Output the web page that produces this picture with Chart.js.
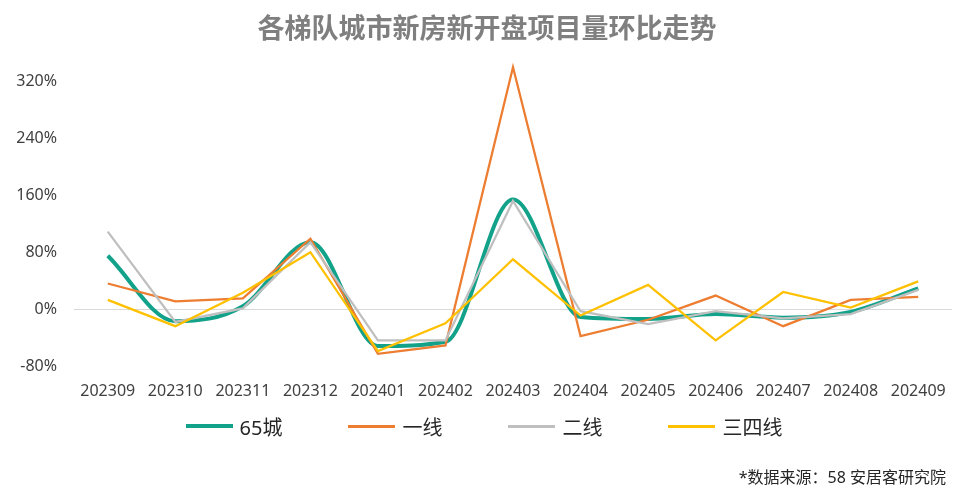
<!DOCTYPE html>
<html>
<head>
<meta charset="utf-8">
<script src="https://cdn.jsdelivr.net/npm/chart.js@4.4.1/dist/chart.umd.min.js"></script>
<style>
    html, body { margin: 0; padding: 0; background: #fff; }
    #wrap { position: relative; width: 960px; height: 499px; font-family: "Noto Sans", "Noto Sans CJK SC", sans-serif; }
    #title { position: absolute; left: 22px; right: 8px; top: 11px; text-align: center; font-size: 27px; font-weight: bold; color: #7f7f7f; line-height: 34px; }
    #legend { position: absolute; left: 8px; top: 413px; width: 952px; display: flex; justify-content: center; gap: 66px; }
    .item { display: flex; align-items: center; font-size: 20px; color: #262626; height: 26px; }
    .item span.line { display: inline-block; width: 47px; margin-right: 7px; }
    #source { position: absolute; right: 14px; top: 464px; font-size: 16px; color: #262626; }
</style>
</head>
<body>
<div id="wrap">
    <canvas id="trendChart" width="960" height="499"></canvas>
    <div id="title">各梯队城市新房新开盘项目量环比走势</div>
    <div id="legend"></div>
    <div id="source">*数据来源：58 安居客研究院</div>
</div>
<script>
const months = ['202309', '202310', '202311', '202312', '202401', '202402', '202403',
    '202404', '202405', '202406', '202407', '202408', '202409'];

const city65 = [75, -17, 4, 94, -52, -46, 154, -11, -14, -7, -12, -4, 29];
const tier1 = [36, 11, 15, 99, -63, -51, 340, -38, -15, 19, -24, 13, 17];
const tier2 = [109, -18, 1, 94, -44, -44, 152, -3, -21, -3, -13, -7, 27];
const tier34 = [13, -24, 23, 80, -59, -20, 70, -9, 34, -44, 24, 2, 39];

const yTicks = [-80, 0, 80, 160, 240, 320];

const seriesNames = ['65城', '一线', '二线', '三四线'];
const seriesColors = ['#12a28a', '#ed7d31', '#bfbfbf', '#ffc000'];

const fontFamily = '"Noto Sans", "Noto Sans CJK SC", sans-serif';

function makeDataset(i, values, width, smooth, order) {
    return {
        label: seriesNames[i],
        data: values,
        borderColor: seriesColors[i],
        backgroundColor: seriesColors[i],
        borderWidth: width,
        tension: smooth ? 0.4 : 0,
        cubicInterpolationMode: smooth ? 'monotone' : 'default',
        pointRadius: 0,
        fill: false,
        order: order
    };
}

function initChart() {
    const ctx = document.getElementById('trendChart').getContext('2d');

    new Chart(ctx, {
        type: 'line',
        data: {
            labels: months,
            datasets: [
                makeDataset(0, city65, 4, true, 4),
                makeDataset(1, tier1, 2.25, false, 3),
                makeDataset(2, tier2, 2.25, false, 2),
                makeDataset(3, tier34, 2.25, false, 1)
            ]
        },
        options: {
            responsive: false,
            animation: false,
            layout: { padding: { left: 0, right: 8, top: 53, bottom: 93 } },
            plugins: {
                legend: { display: false },
                tooltip: { enabled: false }
            },
            scales: {
                x: {
                    offset: true,
                    grid: { display: false },
                    border: { display: false },
                    ticks: {
                        color: '#404040',
                        font: { family: fontFamily, size: 16 },
                        padding: 8,
                        maxRotation: 0
                    },
                    afterFit: function(scale) { scale.height = 40; }
                },
                y: {
                    min: -80,
                    max: 360,
                    border: { display: false },
                    afterBuildTicks: function(scale) {
                        scale.ticks = yTicks.map(v => ({ value: v }));
                    },
                    afterFit: function(scale) { scale.width = 74; },
                    grid: {
                        drawTicks: false,
                        color: c => (c.tick && c.tick.value === 0) ? '#d9d9d9' : 'rgba(0,0,0,0)',
                        lineWidth: 1
                    },
                    ticks: {
                        color: '#404040',
                        font: { family: fontFamily, size: 16 },
                        padding: 17,
                        callback: function(value) { return value + '%'; }
                    }
                }
            }
        }
    });

    // legend in html so the spacing matches
    const legend = document.getElementById('legend');
    const widths = [4, 3, 3, 3];
    seriesNames.forEach((name, i) => {
        const item = document.createElement('div');
        item.className = 'item';
        item.innerHTML = '<span class="line" style="height:' + widths[i] + 'px;background:' + seriesColors[i] + '"></span>' + name;
        legend.appendChild(item);
    });
}

document.addEventListener('DOMContentLoaded', initChart);
</script>
</body>
</html>
